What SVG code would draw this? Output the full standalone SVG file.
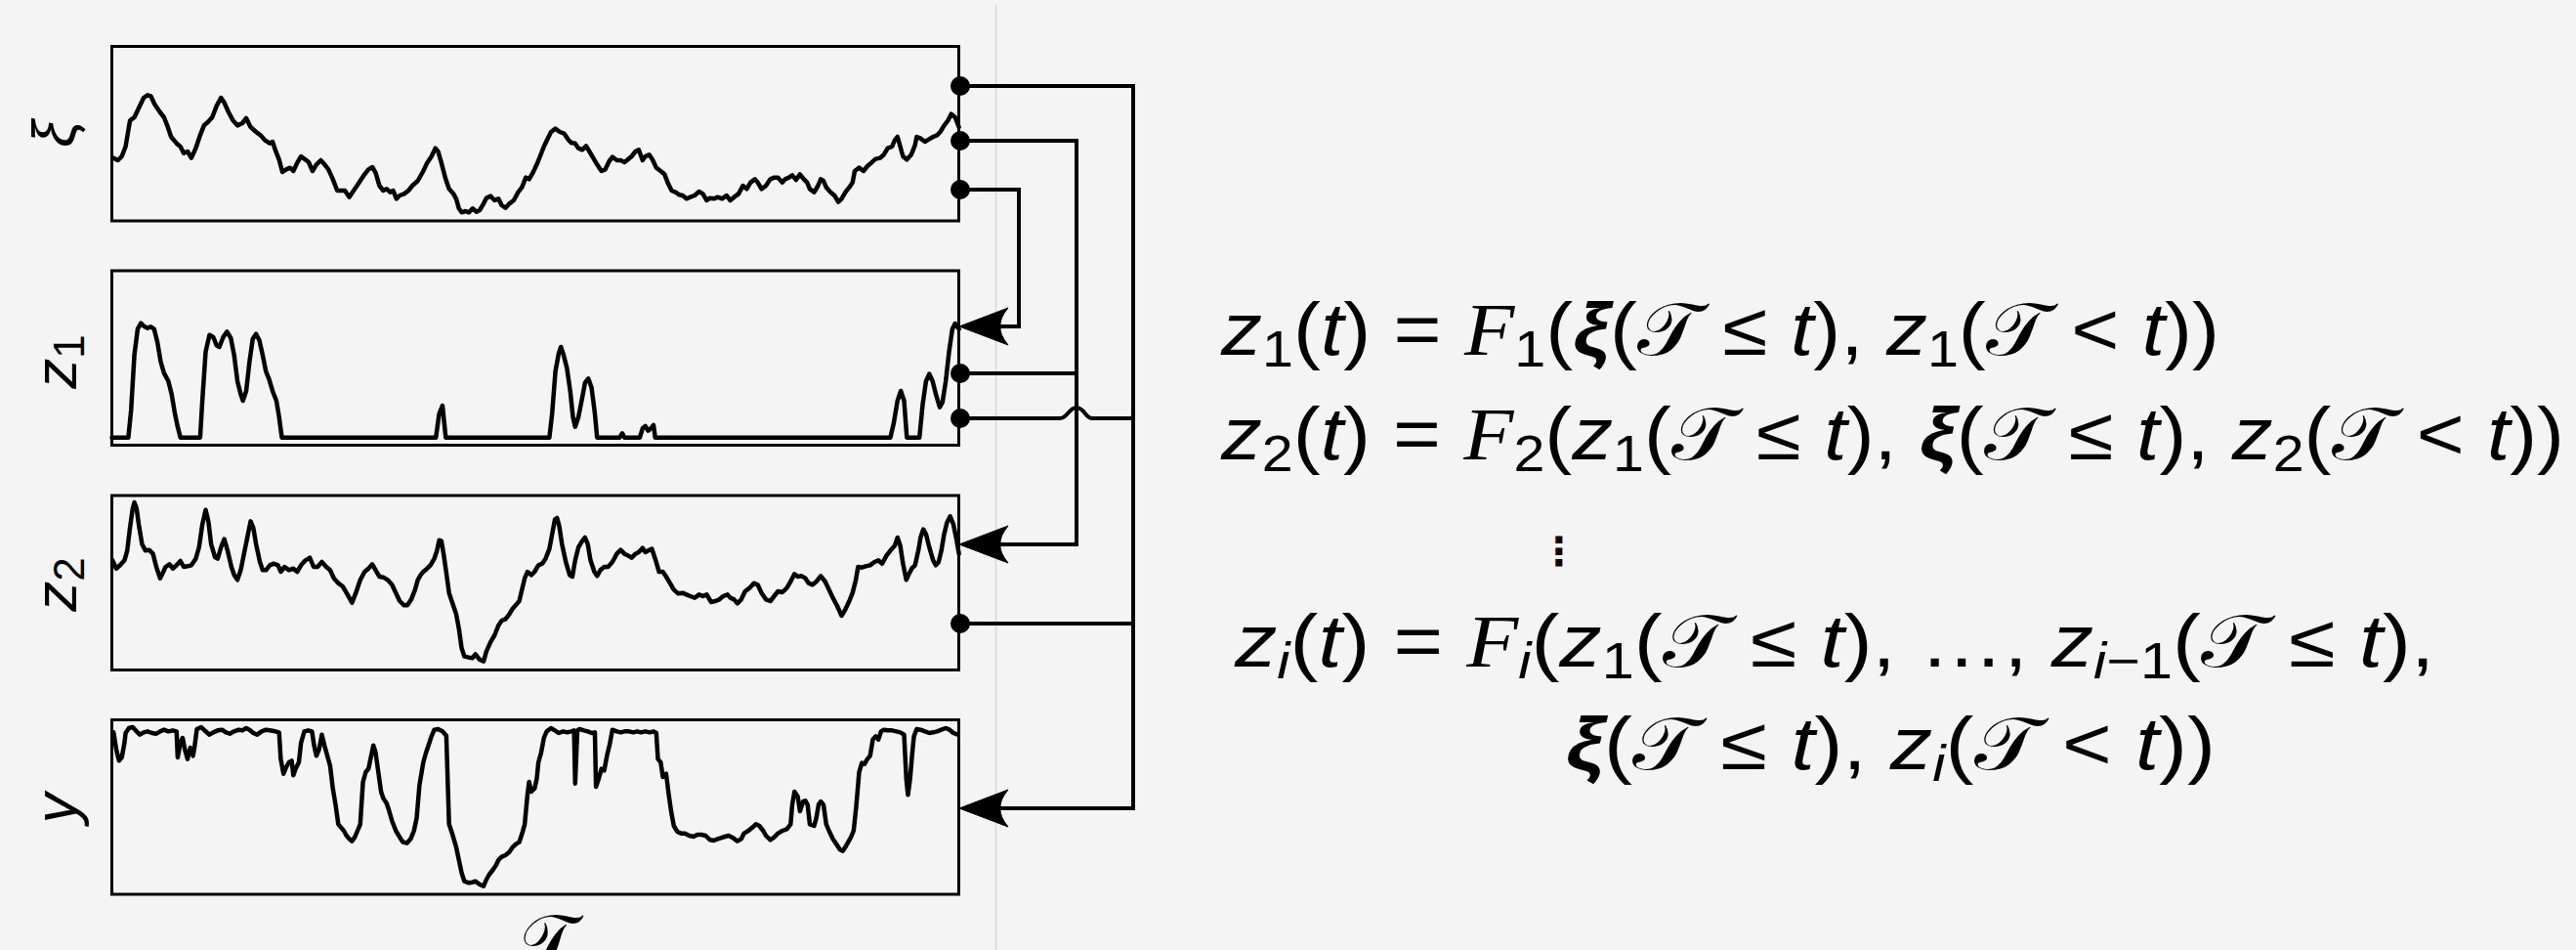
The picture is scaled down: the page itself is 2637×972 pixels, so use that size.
<svg xmlns="http://www.w3.org/2000/svg" width="2637" height="972" viewBox="0 0 2637 972">
<defs>
<style>
.box{fill:none;stroke:#000;stroke-width:3}
.wave{fill:none;stroke:#000;stroke-width:4.5;stroke-linejoin:round;stroke-linecap:round}
.conn{fill:none;stroke:#000;stroke-width:4;stroke-linejoin:miter}
.dot{fill:#000}
.lbl{font-family:"Liberation Sans",Arial,sans-serif;font-style:italic;font-size:62px;fill:#000}
.eq{font-family:"Liberation Sans",Arial,sans-serif;font-size:76px;fill:#000}
.i{font-style:italic}
.s{font-size:52px}
.b{font-weight:bold;font-style:italic}
.cal{font-family:"DejaVu Serif","DejaVu Sans",serif;font-style:normal}
.calf{font-family:"Liberation Serif",serif;font-style:italic}
</style>
<marker id="ah" markerUnits="userSpaceOnUse" markerWidth="80" markerHeight="60" viewBox="-40 -30 80 60" refX="0" refY="0" orient="auto" overflow="visible">
<path d="M18,0 L-32,-19 Q-23,-8 -24,0 Q-23,8 -32,19 Z" fill="#000" stroke="#000" stroke-width="1" stroke-linejoin="round"/>
</marker>
</defs>
<rect x="0" y="0" width="2637" height="972" fill="#f4f4f4"/>
<line x1="1019.5" y1="5" x2="1019.5" y2="972" stroke="#d8d8d8" stroke-width="1.5"/>

<g id="node-xi">
<rect class="box" x="114.5" y="47.5" width="867" height="178.5"/>
<g transform="translate(105,40) scale(0.56122,0.33333)">
<path class="wave" vector-effect="non-scaling-stroke" d="M20,365 L28,372 35,360 42,330 50,250 58,240 65,215 75,180 82,172 88,175 95,200 105,225 112,240 118,265 125,300 135,320 142,330 148,350 155,345 162,365 170,335 178,295 185,265 192,255 200,240 208,205 216,180 222,195 230,225 238,250 246,265 255,258 262,243 270,270 280,285 288,295 296,310 305,320 310,315 315,340 322,370 328,408 335,400 342,395 348,405 355,380 362,360 370,370 376,378 383,405 390,385 398,372 405,385 412,400 420,430 428,465 435,465 442,465 450,485 458,465 465,448 472,430 478,415 485,400 492,393 498,410 505,450 512,465 518,460 525,470 530,465 536,490 542,480 550,475 558,465 565,450 575,435 585,405 592,380 600,360 607,335 612,345 618,380 625,425 632,460 640,475 645,490 650,520 655,532 662,528 668,532 675,520 682,530 688,525 695,505 700,488 708,482 715,495 722,490 728,510 735,518 742,505 750,495 758,470 765,455 772,425 778,430 785,410 792,385 798,360 805,330 812,305 818,285 826,275 834,285 842,290 850,310 855,318 862,320 868,335 875,340 882,328 888,345 895,365 902,385 910,405 917,400 924,375 930,362 938,372 945,372 952,378 958,370 965,360 972,345 978,340 985,372 990,360 997,355 1003,370 1010,395 1018,405 1025,415 1032,445 1038,465 1045,470 1052,478 1058,480 1065,490 1072,485 1080,480 1088,468 1095,475 1102,495 1108,488 1115,490 1122,485 1130,490 1138,480 1145,495 1152,485 1160,475 1168,450 1175,460 1182,440 1190,430 1195,440 1202,460 1210,450 1218,430 1225,425 1232,425 1240,440 1245,430 1252,425 1258,418 1265,432 1272,415 1278,428 1285,440 1290,460 1298,470 1305,450 1310,430 1315,435 1320,455 1328,470 1335,480 1342,500 1348,490 1355,470 1362,455 1368,440 1372,405 1380,395 1388,405 1395,390 1402,380 1410,368 1418,365 1425,355 1432,335 1440,330 1445,310 1450,300 1455,330 1460,360 1467,370 1475,355 1482,325 1485,300 1492,305 1500,315 1507,308 1515,300 1522,295 1528,285 1535,265 1542,250 1548,230 1555,240 1562,270"/>
</g>
<text class="lbl" transform="translate(76,137) rotate(-90)" text-anchor="middle">ξ</text>
</g>

<g id="node-z1">
<rect class="box" x="114.5" y="277" width="867" height="178.5"/>
<g transform="translate(105,270) scale(0.56122,0.33333)">
<path class="wave" vector-effect="non-scaling-stroke" d="M17,533 L47,533 52,450 58,280 64,200 70,182 76,192 82,197 88,193 94,200 100,240 106,300 112,335 120,360 126,400 132,460 137,500 142,533 178,533 182,420 188,270 195,218 202,225 208,250 213,255 220,225 227,208 234,228 240,280 246,360 252,400 256,420 262,390 268,300 274,230 280,215 286,235 292,280 298,330 304,355 310,390 317,420 322,470 327,533 608,533 614,460 620,435 626,533 815,533 820,460 826,330 832,275 836,255 841,280 847,320 853,390 858,470 862,500 868,470 875,410 880,365 886,352 892,380 898,460 902,533 943,533 948,520 952,533 980,533 985,505 990,498 995,512 1000,505 1005,495 1008,533 1437,533 1443,490 1450,420 1456,390 1462,420 1467,533 1490,533 1496,430 1502,360 1508,338 1514,360 1520,400 1527,440 1532,425 1538,360 1544,270 1550,200 1555,183 1562,200"/>
</g>
<text class="lbl" transform="translate(78,370) rotate(-90)" text-anchor="middle">z<tspan style="font-style:normal;font-size:44px" dy="8">1</tspan></text>
</g>

<g id="node-z2">
<rect class="box" x="114.5" y="507" width="867" height="178.5"/>
<g transform="translate(105,500) scale(0.56122,0.33333)">
<path class="wave" vector-effect="non-scaling-stroke" d="M18,220 L25,245 32,235 40,220 45,190 50,120 55,60 58,42 62,60 66,110 72,170 78,190 85,188 92,200 98,240 105,275 110,258 115,240 122,232 128,245 135,235 142,222 148,240 155,238 162,235 170,215 176,180 182,110 188,65 193,100 198,170 205,210 210,215 216,180 222,155 228,190 235,240 240,265 246,280 252,250 258,200 264,150 270,100 275,120 280,170 287,225 292,250 298,250 305,235 312,230 320,235 325,255 332,240 340,250 348,245 355,255 362,235 370,220 378,212 385,240 392,240 400,225 408,240 415,250 422,275 430,290 438,300 445,320 450,335 455,350 462,320 470,280 478,255 485,245 492,232 498,250 505,270 512,272 520,280 528,295 535,320 542,345 550,358 556,358 563,340 570,310 575,280 580,265 585,255 592,245 598,235 605,215 610,190 614,158 618,160 622,200 628,270 632,320 638,350 645,385 650,430 655,490 660,515 668,518 675,520 680,508 688,525 695,530 700,500 708,470 715,450 722,420 728,405 735,400 742,385 748,368 755,355 760,345 765,310 770,275 775,255 782,265 788,255 795,235 802,230 808,215 815,185 820,140 825,95 829,90 833,115 838,170 845,225 852,265 857,270 862,220 868,180 875,160 880,150 885,170 890,220 897,255 902,268 908,250 915,240 922,240 930,225 938,200 945,188 952,200 958,205 965,212 972,200 978,195 985,182 990,195 995,190 1002,185 1008,215 1015,255 1022,255 1028,270 1035,290 1042,310 1050,322 1058,320 1065,325 1072,330 1080,335 1088,325 1095,330 1102,325 1110,348 1118,345 1125,340 1132,330 1140,325 1145,335 1152,340 1158,352 1165,340 1172,315 1180,305 1188,290 1195,295 1202,320 1210,340 1218,345 1225,330 1232,315 1240,318 1248,305 1255,285 1262,262 1268,270 1275,268 1282,275 1288,290 1295,295 1302,285 1310,268 1318,285 1325,310 1332,335 1340,360 1348,390 1355,370 1362,345 1368,320 1374,280 1378,240 1385,242 1392,238 1400,235 1408,225 1415,220 1422,230 1430,205 1437,190 1445,175 1450,150 1455,175 1460,230 1466,280 1470,265 1476,245 1482,235 1488,190 1492,150 1497,125 1502,140 1508,180 1515,220 1520,235 1525,225 1530,190 1535,140 1540,105 1546,85 1552,110 1558,160 1562,200"/>
</g>
<text class="lbl" transform="translate(78,598) rotate(-90)" text-anchor="middle">z<tspan style="font-style:normal;font-size:44px" dy="8">2</tspan></text>
</g>

<g id="node-y">
<rect class="box" x="114.5" y="736.5" width="867" height="178.5"/>
<g transform="translate(105,730) scale(0.56122,0.33333)">
<path class="wave" vector-effect="non-scaling-stroke" d="M20,58 L25,110 30,145 35,135 40,90 42,60 48,45 55,42 62,55 68,65 75,58 82,55 90,60 98,62 105,55 112,50 120,55 128,52 135,55 137,135 142,90 146,75 150,110 155,140 160,105 165,130 168,100 172,48 180,42 188,55 195,65 202,58 210,52 218,50 225,58 232,62 240,55 248,50 255,52 262,45 268,50 275,60 282,65 290,55 298,50 305,52 315,55 322,58 325,140 330,185 335,165 340,150 345,145 348,190 352,170 358,150 362,90 368,55 375,52 382,55 386,100 390,130 395,110 400,65 405,100 410,130 415,160 420,230 425,280 430,340 435,350 440,360 445,375 450,385 455,392 460,380 465,360 470,340 475,210 480,180 485,170 490,130 494,98 498,120 503,180 508,240 512,260 518,275 522,295 528,330 535,360 542,380 548,395 555,398 562,385 568,360 573,320 578,220 585,150 590,120 595,95 600,70 605,50 612,48 620,55 627,68 632,340 638,370 645,410 650,450 655,490 660,515 668,520 675,518 680,515 688,525 695,530 700,510 705,495 712,480 718,465 722,450 728,440 735,435 742,425 748,410 755,400 760,395 765,370 770,340 775,250 778,210 782,240 788,230 792,200 795,150 800,120 805,75 810,55 818,45 825,52 832,60 840,55 848,58 855,55 860,52 862,215 866,52 870,48 878,52 885,55 892,60 898,58 900,225 905,200 910,170 915,175 920,130 925,95 930,50 938,55 945,58 952,55 960,55 968,58 975,55 982,58 990,55 998,58 1005,55 1010,60 1013,140 1018,150 1022,195 1028,185 1032,240 1037,300 1042,345 1048,362 1055,368 1062,368 1070,375 1078,378 1085,372 1092,372 1100,375 1108,388 1115,390 1122,385 1128,382 1135,378 1142,375 1150,382 1158,392 1165,385 1170,368 1178,360 1185,350 1192,340 1198,345 1205,360 1210,375 1218,388 1225,380 1232,368 1240,360 1248,355 1255,340 1258,280 1262,240 1268,255 1272,300 1278,270 1282,268 1286,280 1290,340 1298,345 1302,320 1306,280 1310,270 1315,280 1320,340 1325,360 1332,385 1338,400 1345,418 1350,422 1355,410 1360,395 1365,380 1370,360 1375,280 1380,180 1385,152 1390,155 1395,140 1400,130 1405,80 1410,70 1415,80 1420,55 1425,50 1432,52 1440,52 1448,55 1455,58 1462,65 1466,200 1469,250 1473,200 1477,120 1480,70 1485,48 1492,50 1500,55 1508,60 1515,58 1522,55 1530,50 1538,45 1545,50 1552,60 1560,65"/>
</g>
<text class="lbl" transform="translate(78,827) rotate(-90)" text-anchor="middle">y</text>
</g>

<g id="axis-label">
<text class="eq cal" x="557" y="992" text-anchor="middle" style="font-size:80px">𝒯</text>
</g>

<g id="connectors">
<path class="conn" d="M982,88 H1160 V827 H1000" marker-end="url(#ah)"/>
<path class="conn" d="M982,144 H1102 V557 H1000" marker-end="url(#ah)"/>
<path class="conn" d="M982,194 H1043 V334 H1000" marker-end="url(#ah)"/>
<path class="conn" d="M982,382 H1102"/>
<path class="conn" d="M982,428 H1085 C1093,428 1094,417 1102,417 C1110,417 1111,428 1118,428 H1160"/>
<path class="conn" d="M982,638 H1160"/>
<circle class="dot" cx="983" cy="88" r="10"/>
<circle class="dot" cx="983" cy="144" r="10"/>
<circle class="dot" cx="983" cy="194" r="10"/>
<circle class="dot" cx="983" cy="382" r="10"/>
<circle class="dot" cx="983" cy="428" r="10"/>
<circle class="dot" cx="983" cy="638" r="10"/>
</g>

<g id="equations">
<text class="eq" x="1250" y="363" textLength="1022" lengthAdjust="spacingAndGlyphs"><tspan class="i">z</tspan><tspan class="s" dy="12">1</tspan><tspan dy="-12">(</tspan><tspan class="i">t</tspan>) = <tspan class="calf">F</tspan><tspan class="s" dy="12">1</tspan><tspan dy="-12">(</tspan><tspan class="b">ξ</tspan>(<tspan class="cal">𝒯</tspan> ≤ <tspan class="i">t</tspan>), <tspan class="i">z</tspan><tspan class="s" dy="12">1</tspan><tspan dy="-12">(</tspan><tspan class="cal">𝒯</tspan> &lt; <tspan class="i">t</tspan>))</text>
<text class="eq" x="1250" y="470" textLength="1375" lengthAdjust="spacingAndGlyphs"><tspan class="i">z</tspan><tspan class="s" dy="12">2</tspan><tspan dy="-12">(</tspan><tspan class="i">t</tspan>) = <tspan class="calf">F</tspan><tspan class="s" dy="12">2</tspan><tspan dy="-12">(</tspan><tspan class="i">z</tspan><tspan class="s" dy="12">1</tspan><tspan dy="-12">(</tspan><tspan class="cal">𝒯</tspan> ≤ <tspan class="i">t</tspan>), <tspan class="b">ξ</tspan>(<tspan class="cal">𝒯</tspan> ≤ <tspan class="i">t</tspan>), <tspan class="i">z</tspan><tspan class="s" dy="12">2</tspan><tspan dy="-12">(</tspan><tspan class="cal">𝒯</tspan> &lt; <tspan class="i">t</tspan>))</text>
<text x="1596" y="578" text-anchor="middle" style="font-family:'DejaVu Sans',sans-serif;font-size:40px;font-weight:bold">⋮</text>
<text class="eq" x="1264" y="682" textLength="1228" lengthAdjust="spacingAndGlyphs"><tspan class="i">z</tspan><tspan class="s i" dy="12">i</tspan><tspan dy="-12">(</tspan><tspan class="i">t</tspan>) = <tspan class="calf">F</tspan><tspan class="s i" dy="12">i</tspan><tspan dy="-12">(</tspan><tspan class="i">z</tspan><tspan class="s" dy="12">1</tspan><tspan dy="-12">(</tspan><tspan class="cal">𝒯</tspan> ≤ <tspan class="i">t</tspan>), …, <tspan class="i">z</tspan><tspan class="s" dy="12"><tspan class="i">i</tspan>−1</tspan><tspan dy="-12">(</tspan><tspan class="cal">𝒯</tspan> ≤ <tspan class="i">t</tspan>),</text>
<text class="eq" x="1603" y="787" textLength="665" lengthAdjust="spacingAndGlyphs"><tspan class="b">ξ</tspan>(<tspan class="cal">𝒯</tspan> ≤ <tspan class="i">t</tspan>), <tspan class="i">z</tspan><tspan class="s i" dy="12">i</tspan><tspan dy="-12">(</tspan><tspan class="cal">𝒯</tspan> &lt; <tspan class="i">t</tspan>))</text>
</g>
</svg>
